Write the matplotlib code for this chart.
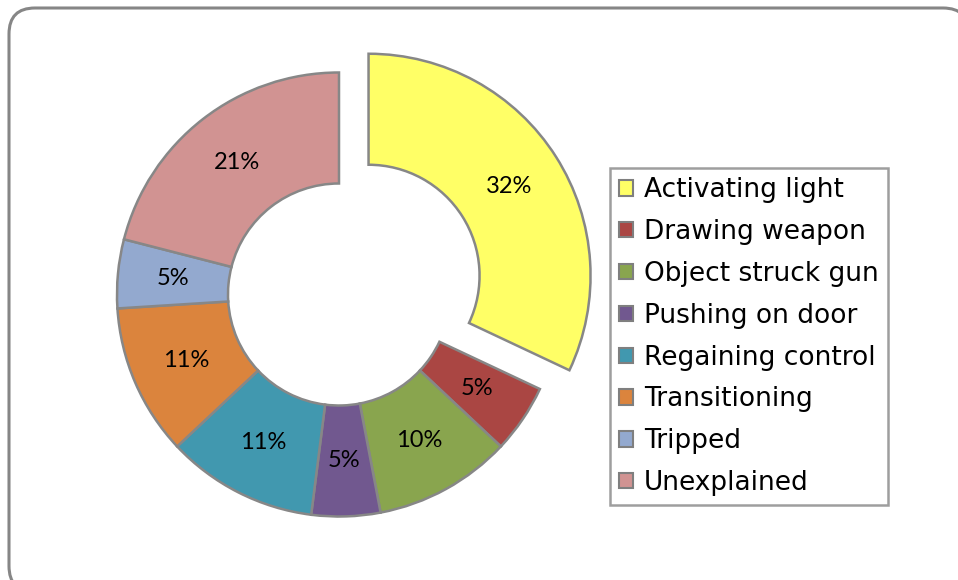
import numpy as np
import matplotlib
matplotlib.use("Agg")
import matplotlib.pyplot as plt
from matplotlib.patches import FancyBboxPatch, Patch

# data
categories = ["Activating light", "Drawing weapon", "Object struck gun", "Pushing on door",
              "Regaining control", "Transitioning", "Tripped", "Unexplained"]
shares = [32, 5, 10, 5, 11, 11, 5, 21]
colors = ["#FFFF66", "#AA4643", "#89A54E", "#71588F", "#4198AF", "#DB843D", "#93A9CF", "#D19392"]
explode_px = [35, 0, 0, 0, 0, 0, 0, 0]

# figure in pixel units
W, H = 958, 580
fig = plt.figure(figsize=(W / 100, H / 100), dpi=100)
ax = fig.add_axes([0, 0, 1, 1])
ax.set_xlim(0, W)
ax.set_ylim(0, H)
ax.set_aspect("equal")
ax.axis("off")

# rounded outer frame
frame = FancyBboxPatch((9, -12), 960, 584, boxstyle="round,pad=0,rounding_size=26",
                       facecolor="white", edgecolor="#868686", linewidth=2.2, zorder=0)
ax.add_patch(frame)

# donut
cx, cy, r = 339, H - 294.5, 222
wedges, texts, autotexts = ax.pie(
    shares, colors=colors, explode=explode_px, center=(cx, cy), radius=r,
    startangle=90, counterclock=False, autopct="%.0f%%", pctdistance=0.75,
    wedgeprops=dict(width=r / 2, edgecolor="#878787", linewidth=1.8),
    textprops=dict(fontsize=17, family="Lato", color="black"))
for w in wedges:
    w.set_zorder(2)
for t in autotexts:
    t.set_zorder(3)
ax.set_xlim(0, W)
ax.set_ylim(0, H)

# legend
handles = [Patch(facecolor=c, edgecolor="#7f7f7f", linewidth=1.5) for c in colors]
leg = ax.legend(handles, categories, loc="upper left", bbox_to_anchor=(610 / W, 1 - 168 / H),
                frameon=True, fancybox=False, edgecolor="#868686",
                prop=dict(family="DejaVu Sans", size=19),
                handlelength=0.52, handleheight=0.52, handletextpad=0.42,
                labelspacing=0.6, borderpad=0.35, borderaxespad=0.0)
leg.get_frame().set_linewidth(1.8)
leg._legend_box.sep = 0

fig.savefig("out.png", dpi=100)
